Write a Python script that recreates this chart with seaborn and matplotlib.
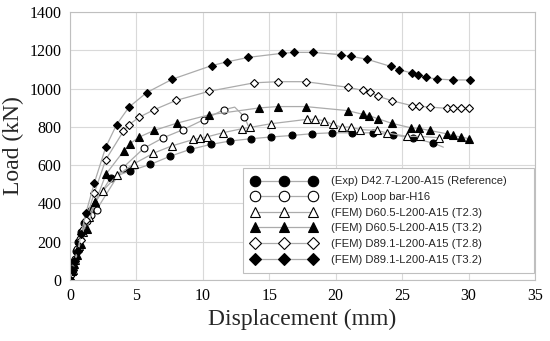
import matplotlib
matplotlib.use("Agg")
import matplotlib.pyplot as plt
import seaborn as sns
import pandas as pd

# ---------------- data ----------------
exp_ref_x = [0, 0.1, 0.2, 0.3, 0.45, 0.6, 0.8, 1.05, 1.3, 1.55, 3.05, 4.5, 6.05, 7.52, 9.03, 10.58,
             12.04, 13.62, 15.12, 16.68, 18.18, 19.69, 21.2, 22.77, 24.28, 25.83, 27.34, 28.1]
exp_ref_y = [0, 30, 65, 100, 150, 200, 250, 300, 345, 365, 533, 569, 604, 646, 682, 708,
             726, 738, 747, 755, 764, 769, 769, 769, 759, 741, 715, 694]

loop_x = [0, 0.1, 0.25, 0.4, 0.55, 0.75, 1.0, 1.3, 1.6, 2.0, 3.96, 5.55, 7.02, 8.53, 10.05,
          11.59, 12.4, 13.12, 13.42]
loop_y = [0, 30, 70, 110, 160, 212, 260, 310, 340, 367, 585, 688, 743, 786, 837,
          890, 903, 853, 805]

t23_x = [0, 0.2, 0.4, 0.7, 1.0, 1.4, 1.9, 2.46, 3.56, 4.84, 6.27, 7.65, 9.28, 9.78, 10.33, 11.49,
         12.92, 13.54, 15.1, 17.81, 18.43, 19.11, 19.76, 20.44, 21.14, 21.82, 23.12, 23.83,
         25.38, 26.34, 27.79]
t23_y = [0, 50, 105, 180, 250, 330, 410, 465, 547, 608, 662, 700, 734, 741, 748, 769,
         790, 797, 816, 839, 839, 833, 813, 799, 799, 786, 781, 769,
         750, 750, 743]

t32a_x = [0, 0.15, 0.3, 0.5, 0.83, 1.25, 1.9, 2.7, 4.05, 4.51, 5.22, 6.32, 8.03, 10.48, 14.25,
          15.63, 17.73, 20.89, 22.07, 22.52, 23.2, 24.2, 25.66, 26.26, 27.09, 28.34, 28.8,
          29.42, 30.05]
t32a_y = [0, 45, 85, 130, 188, 269, 405, 552, 675, 712, 747, 781, 819, 863, 899,
          906, 906, 885, 865, 858, 842, 819, 795, 792, 781, 764, 755,
          747, 738]

t28_x = [0, 0.2, 0.4, 0.6, 0.83, 1.2, 1.83, 2.69, 4.01, 4.46, 5.22, 6.32, 7.98, 10.48, 13.85,
         15.63, 17.73, 20.89, 22.07, 22.57, 23.2, 24.2, 25.71, 26.26, 27.09, 28.34, 28.84,
         29.42, 30.05]
t28_y = [0, 50, 100, 150, 208, 316, 455, 628, 776, 812, 851, 889, 938, 986, 1030,
         1036, 1036, 1007, 990, 981, 960, 937, 911, 908, 903, 897, 897,
         897, 897]

t32b_x = [0, 0.15, 0.3, 0.58, 0.83, 1.2, 1.83, 2.69, 3.51, 4.44, 5.77, 7.7, 10.66, 11.79, 13.42,
          15.93, 16.85, 18.31, 20.37, 21.14, 22.32, 24.13, 24.78, 25.76, 26.16, 26.76, 27.59,
          28.84, 30.1]
t32b_y = [0, 50, 100, 151, 238, 350, 507, 694, 812, 903, 979, 1049, 1120, 1139, 1163,
          1184, 1189, 1189, 1177, 1168, 1154, 1116, 1099, 1080, 1073, 1059, 1050,
          1045, 1045]

labels = ["(Exp) D42.7-L200-A15 (Reference)",
          "(Exp) Loop bar-H16",
          "(FEM) D60.5-L200-A15 (T2.3)",
          "(FEM) D60.5-L200-A15 (T3.2)",
          "(FEM) D89.1-L200-A15 (T2.8)",
          "(FEM) D89.1-L200-A15 (T3.2)"]

x_ticks = [0, 5, 10, 15, 20, 25, 30, 35]
y_ticks = [0, 200, 400, 600, 800, 1000, 1200, 1400]

# ---------------- plot ----------------
sns.set_style("white")
plt.rcParams["font.family"] = ["Liberation Serif", "DejaVu Serif"]

fig = plt.figure(figsize=(5.5, 3.41), dpi=100)
ax = fig.add_axes([70 / 550, 1 - 280 / 341, 465 / 550, 268 / 341])

series = [
    (exp_ref_x, exp_ref_y, "o", "black", list(range(len(exp_ref_x) - 1))),
    (loop_x, loop_y, "o", "white", [i for i in range(len(loop_x)) if i not in (16, 18)]),
    (t23_x, t23_y, "^", "white", None),
    (t32a_x, t32a_y, "^", "black", None),
    (t28_x, t28_y, "D", "white", None),
    (t32b_x, t32b_y, "D", "black", None),
]
sizes = {"o": 5.0, "^": 5.2, "D": 4.3}

handles = []
for (xs, ys, mk, fc, mev), lab in zip(series, labels):
    df = pd.DataFrame({"x": xs, "y": ys})
    sns.lineplot(data=df, x="x", y="y", ax=ax, sort=False, estimator=None,
                 color="#ababab", linewidth=0.9, marker=mk, markersize=sizes[mk],
                 markerfacecolor=fc, markeredgecolor="black", markeredgewidth=0.8,
                 markevery=mev, label=lab, legend=False)
    handles.append(ax.lines[-1])

ax.set_xlim(0, 35)
ax.set_ylim(0, 1400)
ax.set_xticks(x_ticks)
ax.set_yticks(y_ticks)
ax.grid(True, color="#d9d9d9", linewidth=0.8)
ax.set_axisbelow(True)
for s in ax.spines.values():
    s.set_color("#bfbfbf")
    s.set_linewidth(0.8)
ax.tick_params(axis="both", length=0, labelsize=11.5, pad=6, colors="black")
ax.set_xlabel("Displacement (mm)", fontsize=17, labelpad=3)
ax.set_ylabel("Load (kN)", fontsize=17, labelpad=4)

leg = ax.legend(handles=handles, labels=labels, loc="lower left",
                bbox_to_anchor=(173 / 465, 7 / 268, 291 / 465, 105 / 268),
                mode="expand", borderaxespad=0, numpoints=3,
                handlelength=5.8, handletextpad=1.25, labelspacing=0.5,
                markerscale=1.5, fancybox=False, framealpha=1, edgecolor="#bfbfbf",
                prop={"family": ["Liberation Sans", "DejaVu Sans"], "size": 8.1},
                borderpad=0.75)
leg.get_frame().set_linewidth(0.8)

fig.savefig("out.png", dpi=100)
